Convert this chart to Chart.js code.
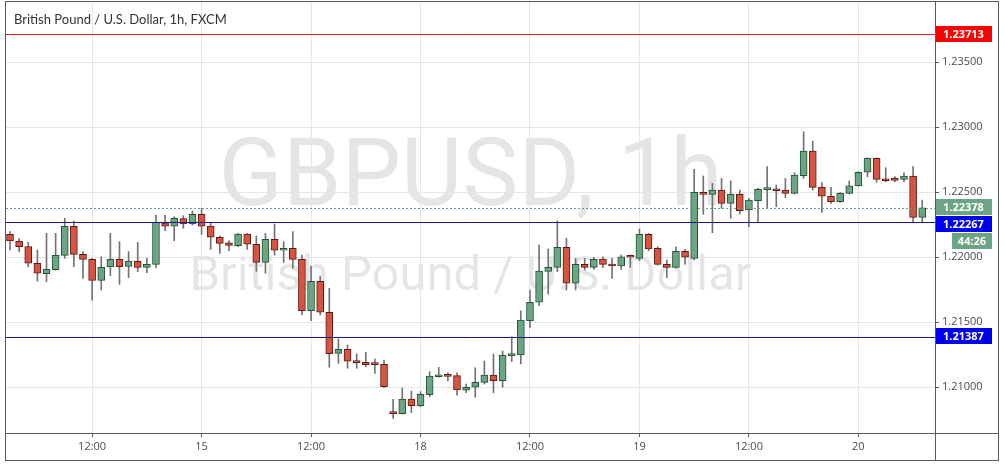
<!DOCTYPE html>
<html>
<head>
<meta charset="utf-8">
<script src="https://cdn.jsdelivr.net/npm/chart.js@4.4.1/dist/chart.umd.min.js"></script>
<style>
  html, body { margin: 0; padding: 0; background: #fff; }
  #wrap { width: 1005px; height: 465px; position: relative; }
</style>
</head>
<body>
<div id="wrap"><canvas id="gbpChart"></canvas></div>
<script>
// GBP/USD 1h candles, weekend hours left out
const opens = [1.22175, 1.22123, 1.22080, 1.21952, 1.21872, 1.21902, 1.22013, 1.22236, 1.22021, 1.21982,
  1.21821, 1.21923, 1.21982, 1.21928, 1.21967, 1.21921, 1.21944, 1.22264, 1.22238, 1.22295,
  1.22254, 1.22328, 1.22238, 1.22152, 1.22110, 1.22087, 1.22177, 1.22098, 1.21959, 1.22136,
  1.22052, 1.22067, 1.21982, 1.21587, 1.21813, 1.21575, 1.21259, 1.21290, 1.21202, 1.21190,
  1.21177, 1.21175, 1.20808, 1.20795, 1.20908, 1.20856, 1.20941, 1.21079, 1.21085, 1.21087,
  1.20975, 1.20998, 1.21036, 1.21092, 1.21048, 1.21241, 1.21246, 1.21510, 1.21652, 1.21890,
  1.21921, 1.22075, 1.21798, 1.21944, 1.21921, 1.21985, 1.21944, 1.21931, 1.22005, 1.21990,
  1.22175, 1.22067, 1.21944, 1.21921, 1.22044, 1.21990, 1.22498, 1.22482, 1.22515, 1.22413,
  1.22482, 1.22362, 1.22433, 1.22518, 1.22523, 1.22515, 1.22490, 1.22625, 1.22815, 1.22536,
  1.22469, 1.22425, 1.22490, 1.22548, 1.22652, 1.22759, 1.22600, 1.22600, 1.22598, 1.22623,
  1.22305];
const highs = [1.22195, 1.22141, 1.22113, 1.22054, 1.22182, 1.22182, 1.22298, 1.22277, 1.22041, 1.21990,
  1.22002, 1.22182, 1.22118, 1.22041, 1.22113, 1.21990, 1.22323, 1.22323, 1.22310, 1.22318,
  1.22354, 1.22375, 1.22264, 1.22162, 1.22125, 1.22182, 1.22182, 1.22162, 1.22182, 1.22254,
  1.22118, 1.22195, 1.22015, 1.21931, 1.21854, 1.21759, 1.21369, 1.21323, 1.21254, 1.21267,
  1.21215, 1.21208, 1.20905, 1.20992, 1.20969, 1.20964, 1.21118, 1.21152, 1.21110, 1.21110,
  1.21023, 1.21148, 1.21200, 1.21254, 1.21277, 1.21387, 1.21587, 1.21746, 1.22092, 1.22062,
  1.22277, 1.22144, 1.21990, 1.21990, 1.21998, 1.22002, 1.21990, 1.22015, 1.22015, 1.22215,
  1.22182, 1.22079, 1.21977, 1.22079, 1.22059, 1.22675, 1.22623, 1.22567, 1.22605, 1.22587,
  1.22515, 1.22452, 1.22528, 1.22695, 1.22554, 1.22605, 1.22648, 1.22964, 1.22892, 1.22575,
  1.22536, 1.22495, 1.22585, 1.22656, 1.22764, 1.22764, 1.22687, 1.22618, 1.22648, 1.22695,
  1.22438];
const lows = [1.22054, 1.22041, 1.21925, 1.21815, 1.21810, 1.21898, 1.21990, 1.21925, 1.21836, 1.21669,
  1.21746, 1.21856, 1.21790, 1.21841, 1.21887, 1.21879, 1.21918, 1.22202, 1.22125, 1.22221,
  1.22246, 1.22175, 1.22059, 1.22028, 1.22048, 1.22079, 1.22059, 1.21890, 1.21875, 1.22015,
  1.21959, 1.21913, 1.21554, 1.21510, 1.21554, 1.21152, 1.21182, 1.21144, 1.21144, 1.21156,
  1.21105, 1.20995, 1.20759, 1.20792, 1.20802, 1.20848, 1.20925, 1.21075, 1.21046, 1.20938,
  1.20956, 1.20921, 1.21023, 1.20956, 1.20998, 1.21195, 1.21177, 1.21459, 1.21625, 1.21715,
  1.21887, 1.21746, 1.21746, 1.21900, 1.21905, 1.21921, 1.21836, 1.21905, 1.21921, 1.21972,
  1.22048, 1.21938, 1.21841, 1.21915, 1.21946, 1.21977, 1.22328, 1.22187, 1.22375, 1.22298,
  1.22331, 1.22233, 1.22267, 1.22375, 1.22387, 1.22456, 1.22485, 1.22605, 1.22515, 1.22344,
  1.22413, 1.22421, 1.22485, 1.22544, 1.22618, 1.22575, 1.22579, 1.22579, 1.22579, 1.22267,
  1.22267];
const closes = [1.22123, 1.22079, 1.21952, 1.21875, 1.21905, 1.22013, 1.22236, 1.22021, 1.21982, 1.21821,
  1.21921, 1.21982, 1.21925, 1.21969, 1.21921, 1.21944, 1.22267, 1.22238, 1.22298, 1.22254,
  1.22328, 1.22238, 1.22152, 1.22105, 1.22090, 1.22177, 1.22098, 1.21959, 1.22136, 1.22052,
  1.22067, 1.21982, 1.21587, 1.21813, 1.21575, 1.21256, 1.21290, 1.21198, 1.21187, 1.21172,
  1.21172, 1.21002, 1.20795, 1.20908, 1.20856, 1.20944, 1.21085, 1.21085, 1.21082, 1.20977,
  1.20998, 1.21036, 1.21092, 1.21048, 1.21246, 1.21254, 1.21515, 1.21652, 1.21892, 1.21921,
  1.22075, 1.21798, 1.21944, 1.21921, 1.21982, 1.21944, 1.21931, 1.22002, 1.21998, 1.22175,
  1.22062, 1.21944, 1.21921, 1.22044, 1.21998, 1.22498, 1.22482, 1.22515, 1.22413, 1.22482,
  1.22356, 1.22438, 1.22521, 1.22525, 1.22510, 1.22490, 1.22631, 1.22815, 1.22536, 1.22469,
  1.22425, 1.22490, 1.22548, 1.22652, 1.22759, 1.22598, 1.22587, 1.22590, 1.22623, 1.22305,
  1.22378];

// time axis: candle index -> label
const timeTicks = [9, 21, 33, 45, 57, 69, 81, 93];
const timeLabels = ['12:00', '15', '12:00', '18', '12:00', '19', '12:00', '20'];
const priceTicks = [1.210, 1.215, 1.220, 1.225, 1.230, 1.235];

// horizontal levels drawn on the chart
const levels = [1.23713, 1.22267, 1.21387];
const levelLine = ['#ee1c1c', '#16168a', '#16168a'];
const levelTag = ['#ff0000', '#0000f0', '#0000f0'];
const lastPrice = 1.22378;
const countdown = '44:26';

const UP = '#6ba583', DOWN = '#d75442';
const UP_EDGE = '#225437', DOWN_EDGE = '#5b1a13';
const WICK = '#737375';
const FONT = '"Open Sans", sans-serif';

const isUp = opens.map((o, i) => closes[i] >= o);

const overlay = {
  id: 'overlay',
  beforeDraw(chart) {
    const { ctx, chartArea: a } = chart;
    const cx = (a.left + a.right) / 2;
    ctx.save();
    ctx.fillStyle = 'rgba(0,0,0,0.10)';
    ctx.textAlign = 'center';
    ctx.textBaseline = 'alphabetic';
    // size the watermark lines to the widths seen in the reference
    const fit = (text, w) => {
      ctx.font = '100px Roboto';
      return 100 * w / ctx.measureText(text).width;
    };
    let s = fit('GBPUSD, 1h', 504);
    ctx.font = s + 'px Roboto';
    ctx.fillText('GBPUSD, 1h', cx, 205);
    s = fit('British Pound / U.S. Dollar', 562);
    ctx.font = s + 'px Roboto';
    ctx.fillText('British Pound / U.S. Dollar', cx, 290);
    ctx.restore();
  },
  afterDatasetsDraw(chart) {
    const { ctx, chartArea: a, scales: { y } } = chart;
    ctx.save();
    ctx.lineWidth = 1;
    levels.forEach((v, i) => {
      const py = Math.round(y.getPixelForValue(v)) + 0.5;
      ctx.strokeStyle = levelLine[i];
      ctx.beginPath();
      ctx.moveTo(a.left, py);
      ctx.lineTo(a.right, py);
      ctx.stroke();
    });
    const py = Math.round(y.getPixelForValue(lastPrice)) + 0.5;
    ctx.strokeStyle = '#6f9f82';
    ctx.setLineDash([2, 2]);
    ctx.beginPath();
    ctx.moveTo(a.left, py);
    ctx.lineTo(a.right, py);
    ctx.stroke();
    ctx.restore();
  },
  afterDraw(chart) {
    const { ctx, chartArea: a, scales: { y } } = chart;
    ctx.save();

    // price tags on the right axis, pushed down when they overlap
    const h = 17;
    const tags = [{ y: y.getPixelForValue(lastPrice), text: lastPrice.toFixed(5), bg: UP, x: a.right + 1 },
                  { y: y.getPixelForValue(lastPrice) + h, text: countdown, bg: UP, x: a.right + 17 }];
    levels.forEach((v, i) => tags.push({ y: y.getPixelForValue(v), text: v.toFixed(5), bg: levelTag[i], x: a.right + 1 }));
    tags.sort((p, q) => p.y - q.y);
    for (let i = 1; i < tags.length; i++) {
      if (tags[i].y < tags[i - 1].y + h) tags[i].y = tags[i - 1].y + h;
    }
    ctx.font = 'bold 11px ' + FONT;
    ctx.textBaseline = 'middle';
    tags.forEach(t => {
      ctx.fillStyle = t.bg;
      ctx.fillRect(t.x, Math.round(t.y - h / 2), a.right + 57 - t.x, h - 1);
      ctx.fillStyle = '#fff';
      ctx.textAlign = t.x > a.right + 1 ? 'center' : 'left';
      const tx = t.x > a.right + 1 ? (t.x + a.right + 57) / 2 : a.right + 8;
      ctx.fillText(t.text, tx, Math.round(t.y - h / 2) + h / 2);
    });

    // frame and panel separators
    ctx.strokeStyle = '#5a5a5a';
    ctx.lineWidth = 1;
    ctx.strokeRect(5.5, 1.5, 993, 459);
    ctx.beginPath();
    ctx.moveTo(a.right + 0.5, 1.5);
    ctx.lineTo(a.right + 0.5, 460.5);
    ctx.moveTo(5.5, a.bottom + 0.5);
    ctx.lineTo(998.5, a.bottom + 0.5);
    ctx.stroke();

    // title
    ctx.fillStyle = '#333';
    ctx.textAlign = 'left';
    ctx.textBaseline = 'alphabetic';
    ctx.font = '13px Lato, sans-serif';
    ctx.fillText('British Pound / U.S. Dollar, 1h, FXCM', 14, 24);
    ctx.restore();
  }
};

const ctx = document.getElementById('gbpChart').getContext('2d');
const gbpChart = new Chart(ctx, {
  type: 'bar',
  data: {
    datasets: [{
      label: 'body',
      data: opens.map((o, i) => ({ x: i, y: [o, closes[i]] })),
      backgroundColor: isUp.map(u => u ? UP : DOWN),
      borderColor: isUp.map(u => u ? UP_EDGE : DOWN_EDGE),
      borderWidth: 1,
      borderSkipped: false,
      barThickness: 7,
      minBarLength: 2,
      order: 0
    }, {
      label: 'wick',
      data: lows.map((l, i) => ({ x: i, y: [l, highs[i]] })),
      backgroundColor: WICK,
      borderWidth: 0,
      barThickness: 1,
      order: 1
    }]
  },
  options: {
    responsive: true,
    maintainAspectRatio: false,
    animation: false,
    datasets: { bar: { grouped: false } },
    layout: { padding: { left: 6, top: 2, right: 7, bottom: 4 } },
    plugins: { legend: { display: false }, tooltip: { enabled: false } },
    scales: {
      x: {
        type: 'linear',
        offset: false,
        min: -0.44,
        max: 101.4,
        afterBuildTicks: s => { s.ticks = timeTicks.map(v => ({ value: v })); },
        afterFit: s => { s.height = 28; s.paddingLeft = 0; s.paddingRight = 0; },
        ticks: {
          autoSkip: false,
          maxRotation: 0,
          padding: 3,
          color: '#4a4a4a',
          font: { size: 11, family: FONT },
          callback: (v, i) => timeLabels[i]
        },
        grid: { offset: false, color: '#e6e6e6', tickColor: '#5a5a5a', tickLength: 4 },
        border: { display: false }
      },
      y: {
        position: 'right',
        min: 1.206462,
        max: 1.23962,
        afterBuildTicks: s => { s.ticks = priceTicks.map(v => ({ value: v })); },
        afterFit: s => { s.width = 63; s.paddingTop = 0; s.paddingBottom = 0; },
        ticks: {
          padding: 3,
          color: '#4a4a4a',
          font: { size: 11, family: FONT },
          callback: v => v.toFixed(5)
        },
        grid: { color: '#e6e6e6', tickColor: '#5a5a5a', tickLength: 4 },
        border: { display: false }
      }
    }
  },
  plugins: [overlay]
});
</script>
</body>
</html>
